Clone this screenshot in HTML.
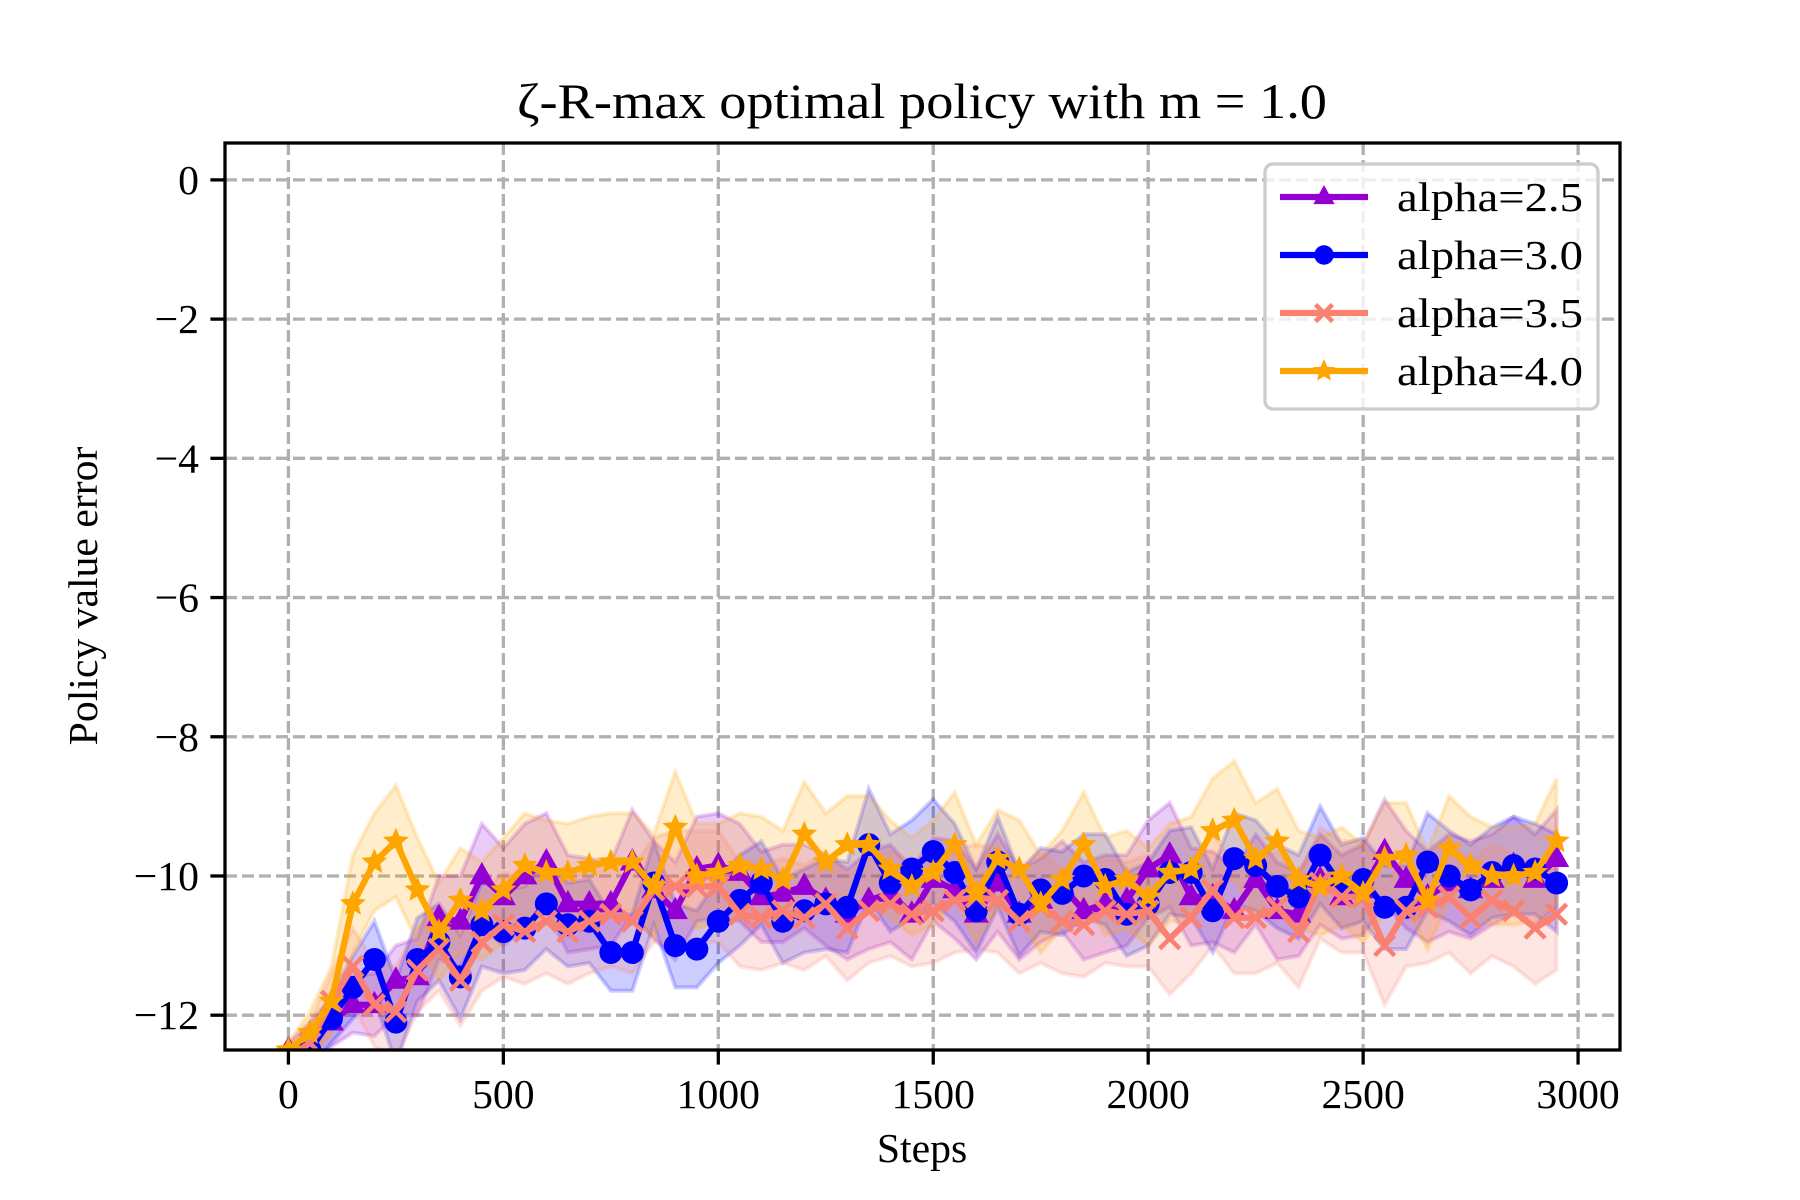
<!DOCTYPE html>
<html><head><meta charset="utf-8">
<style>
html,body{margin:0;padding:0;background:#fff;}
svg{display:block;}
text{font-family:"Liberation Serif","DejaVu Serif",serif;fill:#000;}
</style></head>
<body>
<svg id="chart" width="1800" height="1200" viewBox="0 0 1800 1200" xmlns="http://www.w3.org/2000/svg">
<rect x="0" y="0" width="1800" height="1200" fill="#fff"/>
<text x="922" y="118" font-size="50" text-anchor="middle" textLength="810" lengthAdjust="spacingAndGlyphs">ζ-R-max optimal policy with m = 1.0</text>
<g id="grid"></g>
<g id="series"></g>
<rect x="225" y="143" width="1395" height="907" fill="none" stroke="#000" stroke-width="3.3"/>
<g id="axes"></g>
<text x="922" y="1162" font-size="41.7" text-anchor="middle">Steps</text>
<text x="0" y="0" font-size="41.7" text-anchor="middle" transform="translate(97,596) rotate(-90)">Policy value error</text>
<g id="legend"></g>
</svg>
<script>
const steps = [];
for (let i = 0; i < 60; i++) steps.push(i * 50);
const seriesNames = ["alpha=2.5", "alpha=3.0", "alpha=3.5", "alpha=4.0"];
const xTicks = [0, 500, 1000, 1500, 2000, 2500, 3000];
const yTicks = [0, -2, -4, -6, -8, -10, -12];
const yTickLabels = ["0", "\u22122", "\u22124", "\u22126", "\u22128", "\u221210", "\u221212"];
const mean25 = [-12.5,-12.4,-12.1,-11.85,-11.85,-11.5,-11.45,-10.6,-10.65,-10.0,-10.3,-10.0,-9.8,-10.4,-10.4,-10.4,-9.8,-10.2,-10.5,-9.9,-9.85,-9.95,-10.3,-10.25,-10.15,-10.35,-10.55,-10.35,-10.25,-10.55,-10.05,-10.2,-10.55,-10.1,-10.55,-10.35,-10.15,-10.5,-10.4,-10.35,-9.9,-9.7,-10.3,-10.3,-10.5,-10.05,-10.5,-10.55,-10.05,-10.3,-10.2,-9.65,-10.05,-10.3,-10.1,-10.2,-10.05,-9.85,-10.05,-9.75];
const mean30 = [-12.6,-12.5,-12.05,-11.6,-11.2,-12.1,-11.2,-10.95,-11.45,-10.7,-10.8,-10.75,-10.4,-10.7,-10.65,-11.1,-11.1,-10.1,-11.0,-11.05,-10.65,-10.35,-10.1,-10.65,-10.5,-10.4,-10.45,-9.55,-10.1,-9.9,-9.65,-9.95,-10.5,-9.8,-10.55,-10.2,-10.25,-10.0,-10.05,-10.55,-10.4,-9.95,-9.95,-10.5,-9.75,-9.85,-10.15,-10.3,-9.7,-10.15,-10.05,-10.45,-10.45,-9.8,-10.0,-10.2,-9.95,-9.85,-9.9,-10.1];
const mean35 = [-12.6,-12.4,-11.8,-11.3,-11.85,-11.95,-11.35,-11.05,-11.5,-10.95,-10.7,-10.8,-10.65,-10.8,-10.65,-10.55,-10.65,-10.2,-10.15,-10.15,-10.15,-10.55,-10.6,-10.5,-10.6,-10.4,-10.75,-10.5,-10.4,-10.55,-10.5,-10.35,-10.3,-10.35,-10.65,-10.45,-10.65,-10.7,-10.5,-10.55,-10.5,-10.9,-10.6,-10.2,-10.6,-10.6,-10.45,-10.8,-10.1,-10.3,-10.3,-11.0,-10.5,-10.45,-10.3,-10.6,-10.35,-10.5,-10.75,-10.55];
const mean40 = [-12.5,-12.25,-11.8,-10.4,-9.8,-9.5,-10.2,-10.8,-10.35,-10.5,-10.2,-9.85,-9.95,-9.95,-9.85,-9.8,-9.8,-10.15,-9.3,-10.0,-9.95,-9.85,-9.9,-10.05,-9.4,-9.8,-9.55,-9.55,-9.9,-10.15,-9.95,-9.55,-10.25,-9.75,-9.9,-10.4,-10.05,-9.55,-10.15,-10.05,-10.3,-9.95,-9.9,-9.35,-9.2,-9.75,-9.5,-10.05,-10.15,-10.0,-10.25,-9.75,-9.7,-10.35,-9.6,-9.85,-10.0,-10.0,-9.95,-9.5];
const std25 = [0.1,0.3,0.35,0.4,0.45,0.5,0.55,0.6,0.65,0.75,0.7,0.75,0.7,0.7,0.65,0.6,0.75,0.7,0.7,0.75,0.75,0.7,0.65,0.7,0.6,0.65,0.65,0.7,0.7,0.65,0.6,0.7,0.65,0.7,0.65,0.6,0.65,0.7,0.7,0.65,0.7,0.75,0.7,0.65,0.6,0.65,0.7,0.6,0.65,0.6,0.65,0.75,0.7,0.65,0.7,0.7,0.65,0.7,0.65,0.7];
const std30 = [0.1,0.25,0.35,0.45,0.55,0.6,0.6,0.55,0.6,0.6,0.6,0.6,0.65,0.6,0.6,0.55,0.55,0.6,0.6,0.55,0.6,0.65,0.6,0.6,0.6,0.65,0.65,0.8,0.7,0.7,0.75,0.7,0.6,0.65,0.6,0.6,0.6,0.6,0.65,0.6,0.6,0.6,0.65,0.6,0.65,0.65,0.6,0.6,0.7,0.6,0.6,0.6,0.6,0.7,0.65,0.65,0.65,0.7,0.65,0.7];
const std35 = [0.1,0.3,0.4,0.55,0.6,0.65,0.6,0.6,0.65,0.7,0.75,0.75,0.75,0.75,0.75,0.75,0.75,0.75,0.8,0.8,0.8,0.75,0.75,0.75,0.75,0.75,0.75,0.75,0.75,0.75,0.75,0.75,0.75,0.75,0.75,0.8,0.75,0.75,0.75,0.75,0.8,0.8,0.8,0.8,0.8,0.8,0.8,0.8,0.8,0.8,0.8,0.85,0.8,0.8,0.8,0.8,0.8,0.8,0.8,0.8];
const std40 = [0.1,0.3,0.5,0.7,0.7,0.8,0.75,0.7,0.75,0.7,0.75,0.75,0.75,0.7,0.7,0.7,0.7,0.75,0.8,0.75,0.7,0.75,0.75,0.7,0.75,0.7,0.7,0.7,0.7,0.7,0.75,0.75,0.7,0.7,0.7,0.7,0.7,0.75,0.7,0.7,0.7,0.7,0.75,0.75,0.85,0.8,0.75,0.7,0.7,0.7,0.7,0.8,0.75,0.7,0.75,0.7,0.7,0.7,0.7,0.9];
const means = [mean25, mean30, mean35, mean40];
const stds = [std25, std30, std35, std40];
const colors = ["#9400D3", "#0000FF", "#FA8072", "#FFA500"];
const markers = ["triangle", "circle", "x", "star"];

const NS = "http://www.w3.org/2000/svg";
const AX = {l:225, r:1620, t:143, b:1050};
const XMIN = -147.5, XMAX = 3097.5, YMIN = -12.5, YMAX = 0.53;
function xs(v){ return AX.l + (v - XMIN) / (XMAX - XMIN) * (AX.r - AX.l); }
function ys(v){ return AX.b - (v - YMIN) / (YMAX - YMIN) * (AX.b - AX.t); }
function mk(tag, attrs, parent){
  const e = document.createElementNS(NS, tag);
  for (const k in attrs) e.setAttribute(k, attrs[k]);
  parent.appendChild(e);
  return e;
}
const grid = document.getElementById("grid");
const axes = document.getElementById("axes");
xTicks.forEach(function(t){
  const gl = mk("line", {x1:xs(t), x2:xs(t), y1:AX.t, y2:AX.b, stroke:"#b0b0b0", "stroke-width":3.3, "stroke-dasharray":"12,5"}, grid);
  
  
  const tk = mk("line", {x1:xs(t), x2:xs(t), y1:AX.b, y2:AX.b+14.6, stroke:"#000", "stroke-width":3.3}, axes);
  
  
  const lb = mk("text", {x:xs(t), y:AX.b+58, "font-size":41.7, "text-anchor":"middle"}, axes);
  lb.textContent = String(t);
  
  
});
yTicks.forEach(function(t, i){
  const gl = mk("line", {x1:AX.l, x2:AX.r, y1:ys(t), y2:ys(t), stroke:"#b0b0b0", "stroke-width":3.3, "stroke-dasharray":"12,5"}, grid);
  
  
  const tk = mk("line", {x1:AX.l-14.6, x2:AX.l, y1:ys(t), y2:ys(t), stroke:"#000", "stroke-width":3.3}, axes);
  
  
  const lb = mk("text", {x:AX.l-26, y:ys(t)+14, "font-size":41.7, "text-anchor":"end"}, axes);
  lb.textContent = yTickLabels[i];
  
  
});

function drawMarker(type, cx, cy, color, parent, scale){
  const s = scale || 1;
  let m;
  if (type === "circle") {
    m = mk("circle", {cx:cx, cy:cy, r:11.5*s, fill:color}, parent);
  } else if (type === "triangle") {
    const r = 14*s;
    m = mk("polygon", {points:(cx)+","+(cy-r)+" "+(cx-r*0.9)+","+(cy+r*0.6)+" "+(cx+r*0.9)+","+(cy+r*0.6), fill:color}, parent);
  } else if (type === "x") {
    const r = 10*s;
    m = mk("path", {d:"M"+(cx-r)+","+(cy-r)+"L"+(cx+r)+","+(cy+r)+"M"+(cx-r)+","+(cy+r)+"L"+(cx+r)+","+(cy-r), stroke:color, "stroke-width":4.5, fill:"none"}, parent);
  } else {
    const pts = [];
    for (let k = 0; k < 10; k++) {
      const a = -Math.PI/2 + k*Math.PI/5;
      const rr = (k % 2 === 0 ? 11 : 5) * s;
      pts.push((cx + rr*Math.cos(a)).toFixed(1) + "," + (cy + rr*Math.sin(a)).toFixed(1));
    }
    m = mk("polygon", {points:pts.join(" "), fill:color, stroke:color, "stroke-width":2}, parent);
  }
  return m;
}

const sg = document.getElementById("series");
const clip = mk("clipPath", {id:"plotclip"}, sg);
mk("rect", {x:AX.l, y:AX.t, width:AX.r-AX.l, height:AX.b-AX.t}, clip);
sg.setAttribute("clip-path", "url(#plotclip)");
means.forEach(function(mean, si){
  const sd = stds[si];
  const col = colors[si];
  const up = steps.map(function(s, i){ return xs(s).toFixed(1)+","+ys(mean[i]+sd[i]).toFixed(1); });
  const lo = steps.map(function(s, i){ return xs(s).toFixed(1)+","+ys(mean[i]-sd[i]).toFixed(1); }).reverse();
  const band = mk("polygon", {points:up.concat(lo).join(" "), fill:col, "fill-opacity":0.2, stroke:col, "stroke-opacity":0.2, "stroke-width":4}, sg);
  
  
});
means.forEach(function(mean, si){
  const col = colors[si];
  const pts = steps.map(function(s, i){ return xs(s).toFixed(1)+","+ys(mean[i]).toFixed(1); });
  const line = mk("polyline", {points:pts.join(" "), fill:"none", stroke:col, "stroke-width":6.25, "stroke-linejoin":"round"}, sg);
  
  
  steps.forEach(function(s, i){
    const m = drawMarker(markers[si], xs(s), ys(mean[i]), col, sg);
    
    
  });
});

const lg = document.getElementById("legend");
const lbox = mk("rect", {x:1265, y:164, width:333, height:245, rx:8, fill:"#fff", "fill-opacity":0.8, stroke:"#cccccc", "stroke-width":3.3}, lg);


const legendY = [197, 255, 313, 371];
seriesNames.forEach(function(name, si){
  const y = legendY[si];
  const g = mk("g", {}, lg);
  
  
  mk("line", {x1:1280, x2:1368, y1:y, y2:y, stroke:colors[si], "stroke-width":6.25}, g);
  drawMarker(markers[si], 1324, y, colors[si], g, 0.85);
  const t = mk("text", {x:1397, y:y+14, "font-size":41.7, textLength:186, lengthAdjust:"spacingAndGlyphs"}, g);
  t.textContent = name;
});
</script>
</body></html>
